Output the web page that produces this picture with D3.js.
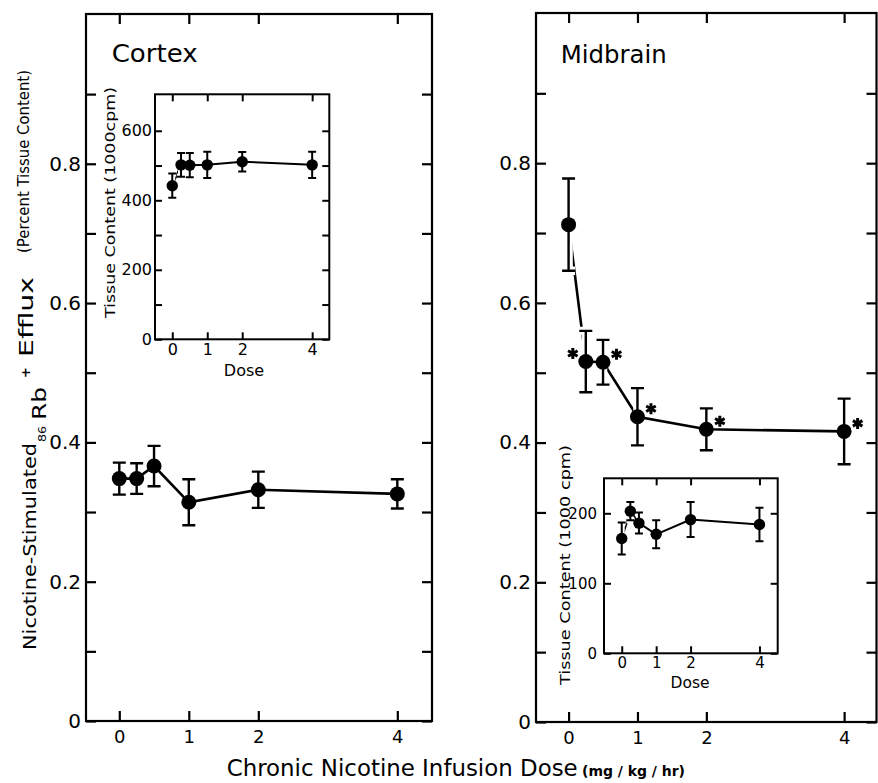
<!DOCTYPE html>
<html><head><meta charset="utf-8">
<script src="https://cdn.jsdelivr.net/npm/d3@7"></script>
<style>
body{margin:0;background:#fff}
svg{display:block}
text{font-family:"DejaVu Sans",sans-serif;fill:#000}
</style>
</head><body>
<svg id="chart" width="878" height="783"></svg>
<script>
// ---------- data ----------
const doses = [0, 0.25, 0.5, 1, 2, 4];
const doseTicks = [0, 1, 2, 4];

const cortexEfflux    = [0.348, 0.348, 0.366, 0.314, 0.332, 0.326];
const cortexEffluxSE  = [0.023, 0.022, 0.029, 0.033, 0.026, 0.021];

const midbrainEfflux   = [0.712, 0.516, 0.515, 0.437, 0.419, 0.416];
const midbrainEffluxSE = [0.066, 0.044, 0.032, 0.041, 0.030, 0.047];
const midbrainSignificant = ["", "left", "right", "right", "right", "right"];

const cortexTissue    = [442, 502, 501, 502, 511, 502];
const cortexTissueSE  = [35, 34, 35, 38, 28, 38];

const midbrainTissue   = [164, 203, 186, 170, 191, 184];
const midbrainTissueSE = [23, 13, 15, 20, 25, 24];

const effluxTicks  = [0, 0.1, 0.2, 0.3, 0.4, 0.5, 0.6, 0.7, 0.8, 0.9];
const effluxLabels = [0, 0.2, 0.4, 0.6, 0.8];
const cortexTissueTicks  = [0, 100, 200, 300, 400, 500, 600];
const cortexTissueLabels = [0, 200, 400, 600];
const midbrainTissueTicks  = [0, 100, 200];
const midbrainTissueLabels = [0, 100, 200];

// ---------- drawing ----------
const svg = d3.select("#chart");

function drawPanel(o) {
  const g = svg.append("g");
  const x = d3.scaleLinear().domain(o.xDom).range([o.x0, o.x1]);
  const y = d3.scaleLinear().domain(o.yDom).range([o.y1, o.y0]);

  g.append("rect").attr("x", o.x0).attr("y", o.y0)
    .attr("width", o.x1 - o.x0).attr("height", o.y1 - o.y0)
    .attr("fill", o.fill || "none").attr("stroke", "#000").attr("stroke-width", o.frameW);

  const fmtY = d => o.yLabels.includes(d) ? o.fmt(d) : "";
  const styleAxis = (sel, fs) => {
    sel.select(".domain").remove();
    sel.selectAll(".tick line").attr("stroke", "#000").attr("stroke-width", o.frameW);
    sel.selectAll(".tick text").attr("font-size", fs).attr("fill", "#000")
      .attr("font-family", '"DejaVu Sans",sans-serif');
  };
  g.append("g").attr("transform", `translate(${o.x0},0)`)
    .call(d3.axisLeft(y).tickValues(o.yTicks).tickSizeInner(-o.tick).tickSizeOuter(0)
      .tickPadding(o.yPad).tickFormat(fmtY))
    .call(s => styleAxis(s, o.yFont));
  g.append("g").attr("transform", `translate(${o.x1},0)`)
    .call(d3.axisRight(y).tickValues(o.yTicks).tickSizeInner(-o.tick).tickSizeOuter(0).tickFormat(""))
    .call(s => styleAxis(s, o.yFont));
  g.append("g").attr("transform", `translate(0,${o.y1})`)
    .call(d3.axisBottom(x).tickValues(doseTicks).tickSizeInner(-o.tick).tickSizeOuter(0)
      .tickPadding(o.xPad).tickFormat(d3.format("d")))
    .call(s => styleAxis(s, o.xFont));
  g.append("g").attr("transform", `translate(0,${o.y0})`)
    .call(d3.axisTop(x).tickValues(doseTicks).tickSizeInner(-o.tick).tickSizeOuter(0).tickFormat(""))
    .call(s => styleAxis(s, o.xFont));

  const pts = doses.map((d, i) => ({d, v: o.vals[i], se: o.se[i], sig: o.sig ? o.sig[i] : ""}));

  g.append("path").datum(pts)
    .attr("d", d3.line().x(p => x(p.d)).y(p => y(p.v)))
    .attr("fill", "none").attr("stroke", "#000").attr("stroke-width", o.lineW);

  const bars = (color, w) => {
    const eb = g.append("g").attr("stroke", color).attr("stroke-width", w).attr("fill", "none");
    eb.selectAll("path").data(pts).join("path")
      .attr("d", p => {
        const cx = x(p.d), t = y(p.v + p.se), b = y(p.v - p.se);
        return `M${cx},${t}V${b}M${cx - o.cap},${t}H${cx + o.cap}M${cx - o.cap},${b}H${cx + o.cap}`;
      });
  };
  bars("#fff", o.barW + o.halo);
  bars("#000", o.barW);

  g.append("g").selectAll("circle").data(pts).join("circle")
    .attr("cx", p => x(p.d)).attr("cy", p => y(p.v)).attr("r", o.r)
    .attr("fill", "#000");

  const star = d3.symbol(d3.symbolAsterisk, 85);
  g.append("g").selectAll("path").data(pts.filter(p => p.sig)).join("path")
    .attr("d", star)
    .attr("transform", p => `translate(${x(p.d) + (p.sig === "left" ? -13 : 13.5)},${y(p.v) - 8})`)
    .attr("stroke", "#000").attr("stroke-width", 3).attr("fill", "none");

  return {x, y};
}

const mainStyle = {frameW: 2.2, tick: 10, yPad: 5, xPad: 9, yFont: 20, xFont: 18,
  lineW: 2.6, barW: 2.4, halo: 6, cap: 6.5, r: 7.5, yDom: [0, 1.015],
  yTicks: effluxTicks, yLabels: effluxLabels, fmt: d => d === 0 ? "0" : d3.format(".1f")(d)};

drawPanel(Object.assign({}, mainStyle, {x0: 86, x1: 432, y0: 14, y1: 721,
  xDom: [-0.479, 4.499], vals: cortexEfflux, se: cortexEffluxSE}));
drawPanel(Object.assign({}, mainStyle, {x0: 536, x1: 876.5, y0: 13, y1: 722,
  xDom: [-0.473, 4.47], vals: midbrainEfflux, se: midbrainEffluxSE, sig: midbrainSignificant}));

const insetStyle = {frameW: 2, tick: 7, lineW: 2, barW: 2, halo: 4, cap: 4, r: 5.7,
  xFont: 16, yFont: 16, xPad: 4, fill: "#fff", fmt: d => String(d)};

drawPanel(Object.assign({}, insetStyle, {x0: 155, x1: 329.3, y0: 94.3, y1: 339.3,
  xDom: [-0.494, 4.49], yDom: [0, 705], yPad: 3, yTicks: cortexTissueTicks, yLabels: cortexTissueLabels,
  vals: cortexTissue, se: cortexTissueSE}));
drawPanel(Object.assign({}, insetStyle, {x0: 604, x1: 777.7, y0: 478.3, y1: 653.3,
  xDom: [-0.515, 4.53], yDom: [0, 250], yPad: 7, yFont: 15, xFont: 15, yTicks: midbrainTissueTicks,
  yLabels: midbrainTissueLabels, vals: midbrainTissue, se: midbrainTissueSE}));

// ---------- texts ----------
const txt = (x, y, s, size, opts = {}) => {
  const t = svg.append("text").attr("x", x).attr("y", y).attr("font-size", size).text(s);
  if (opts.anchor) t.attr("text-anchor", opts.anchor);
  if (opts.weight) t.attr("font-weight", opts.weight);
  if (opts.len) t.attr("textLength", opts.len).attr("lengthAdjust", "spacingAndGlyphs");
  if (opts.rot) t.attr("transform", `rotate(-90,${x},${y})`);
  return t;
};

txt(111.7, 62, "Cortex", 24, {len: 86});
txt(560.7, 63.3, "Midbrain", 24, {len: 106});

txt(244, 376, "Dose", 16, {anchor: "middle"});
txt(690, 688, "Dose", 15.5, {anchor: "middle"});

txt(115, 318, "Tissue Content (1000cpm)", 14.5, {rot: true, len: 231});
txt(570, 685, "Tissue Content (1000 cpm)", 14.5, {rot: true, len: 240});

txt(226.7, 776, "Chronic Nicotine Infusion Dose", 23, {len: 351});
txt(582, 776, "(mg / kg / hr)", 14, {weight: "bold", len: 103});

// main y title
txt(36, 650, "Nicotine-Stimulated", 17.5, {rot: true, len: 207});
txt(46, 442, "86", 11, {rot: true, len: 16});
txt(46, 420, "Rb", 20, {rot: true, len: 33});
txt(30, 378, "+", 13, {rot: true, weight: "bold"});
txt(33, 357, "Efflux", 20, {rot: true, len: 80});
txt(29, 253, "(Percent Tissue Content)", 16, {rot: true, len: 183});
</script>
</body></html>
